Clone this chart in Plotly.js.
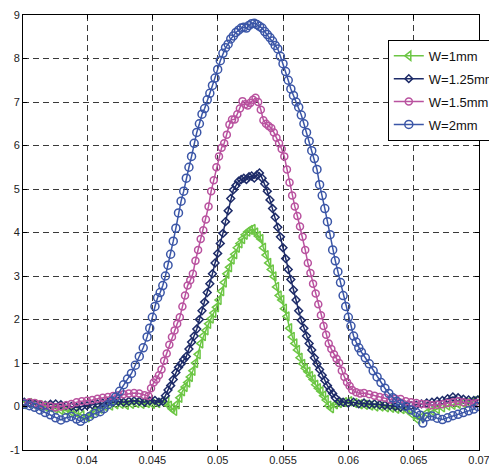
<!DOCTYPE html>
<html>
<head>
<meta charset="utf-8">
<script src="https://cdn.plot.ly/plotly-3.0.1.min.js"></script>
<style>html,body{margin:0;padding:0;background:#fff;}#chart{width:489px;height:466px;}</style>
</head>
<body>
<div id="chart"></div>
<script>
// ---- data ----
var seriesNames = ["W=1mm", "W=1.25mm", "W=1.5mm", "W=2mm"];

var x_w1 = [0.0352,0.0356,0.0360,0.0364,0.0368,0.0372,0.0376,0.0380,0.0384,0.0388,0.0392,0.0396,0.0400,0.0403,0.0406,0.0410,0.0414,0.0418,0.0422,0.0426,0.0430,0.0434,0.0438,0.0442,0.0446,0.0450,0.0454,0.0458,0.0461,0.0463,0.0465,0.0467,0.0469,0.0471,0.0473,0.0475,0.0477,0.0479,0.0481,0.0483,0.0485,0.0487,0.0489,0.0491,0.0493,0.0495,0.0497,0.0499,0.0501,0.0503,0.0505,0.0507,0.0509,0.0511,0.0513,0.0515,0.0517,0.0519,0.0521,0.0523,0.0525,0.0527,0.0529,0.0531,0.0533,0.0535,0.0537,0.0539,0.0541,0.0543,0.0545,0.0547,0.0549,0.0551,0.0553,0.0555,0.0557,0.0559,0.0561,0.0563,0.0565,0.0567,0.0569,0.0571,0.0573,0.0575,0.0577,0.0579,0.0581,0.0583,0.0585,0.0587,0.0590,0.0593,0.0597,0.0601,0.0605,0.0609,0.0613,0.0617,0.0621,0.0625,0.0629,0.0633,0.0637,0.0641,0.0645,0.0649,0.0653,0.0656,0.0660,0.0664,0.0668,0.0672,0.0676,0.0680,0.0684,0.0688,0.0692,0.0696,0.0699];
var y_w1 = [0.05,0.08,0.05,0.03,0.0,-0.02,-0.05,-0.08,-0.1,-0.12,-0.15,-0.2,-0.25,-0.18,-0.1,-0.05,0.0,0.02,0.05,0.06,0.04,0.06,0.08,0.06,0.08,0.06,0.08,0.12,0.12,0.02,-0.05,-0.1,0.05,0.2,0.35,0.45,0.55,0.68,0.82,1.0,1.2,1.45,1.62,1.75,1.9,2.02,2.15,2.28,2.45,2.65,2.85,3.05,3.2,3.38,3.5,3.65,3.75,3.85,3.95,4.02,4.06,4.08,4.0,3.92,3.85,3.65,3.48,3.3,3.15,2.99,2.75,2.55,2.45,2.25,2.07,1.8,1.6,1.45,1.3,1.12,0.98,0.88,0.8,0.7,0.62,0.5,0.42,0.35,0.25,0.15,0.02,-0.04,0.05,0.08,0.1,0.12,0.08,0.05,0.04,0.02,0.0,0.0,-0.02,-0.03,-0.05,-0.06,-0.08,-0.18,-0.3,-0.25,-0.15,-0.1,-0.06,-0.02,0.02,0.04,0.06,0.08,0.1,0.12,0.15];

var x_w125 = [0.0352,0.0356,0.0360,0.0364,0.0368,0.0372,0.0376,0.0380,0.0384,0.0388,0.0392,0.0396,0.0400,0.0404,0.0408,0.0412,0.0416,0.0420,0.0424,0.0428,0.0432,0.0436,0.0440,0.0444,0.0448,0.0452,0.0455,0.0458,0.0460,0.0462,0.0464,0.0466,0.0468,0.0470,0.0472,0.0474,0.0476,0.0478,0.0480,0.0482,0.0484,0.0486,0.0488,0.0490,0.0492,0.0494,0.0496,0.0498,0.0500,0.0502,0.0504,0.0506,0.0508,0.0510,0.0512,0.0514,0.0516,0.0518,0.0520,0.0522,0.0524,0.0526,0.0528,0.0530,0.0532,0.0534,0.0536,0.0538,0.0540,0.0542,0.0544,0.0546,0.0548,0.0550,0.0552,0.0554,0.0556,0.0558,0.0560,0.0562,0.0564,0.0566,0.0568,0.0570,0.0572,0.0574,0.0576,0.0578,0.0580,0.0582,0.0584,0.0586,0.0588,0.0590,0.0593,0.0596,0.0600,0.0604,0.0608,0.0612,0.0616,0.0620,0.0624,0.0628,0.0632,0.0636,0.0640,0.0644,0.0648,0.0652,0.0656,0.0660,0.0664,0.0668,0.0672,0.0676,0.0680,0.0684,0.0688,0.0692,0.0696,0.0699];
var y_w125 = [0.1,0.08,0.06,0.04,0.03,0.05,0.06,0.04,0.02,0.0,-0.02,0.0,0.02,0.04,0.06,0.08,0.1,0.1,0.12,0.1,0.12,0.13,0.12,0.1,0.13,0.14,0.1,0.12,0.25,0.38,0.48,0.62,0.78,0.9,0.98,1.08,1.15,1.32,1.48,1.62,1.78,2.0,2.2,2.4,2.62,2.82,3.05,3.3,3.52,3.75,3.98,4.25,4.5,4.78,4.98,5.08,5.18,5.22,5.25,5.22,5.28,5.3,5.25,5.32,5.37,5.25,5.12,4.95,4.75,4.55,4.35,4.12,3.9,3.65,3.4,3.15,2.92,2.68,2.45,2.2,1.98,1.8,1.62,1.45,1.3,1.12,0.98,0.85,0.72,0.6,0.48,0.38,0.3,0.2,0.12,0.1,0.08,0.1,0.06,0.08,0.05,0.06,0.04,0.03,0.02,0.0,-0.02,0.0,0.02,0.03,0.06,0.08,0.1,0.12,0.14,0.18,0.22,0.2,0.17,0.15,0.14,0.15];

var x_w15 = [0.0352,0.0356,0.0360,0.0364,0.0368,0.0372,0.0376,0.0380,0.0384,0.0388,0.0392,0.0396,0.0400,0.0404,0.0408,0.0412,0.0416,0.0420,0.0424,0.0428,0.0432,0.0436,0.0440,0.0444,0.0447,0.0449,0.0451,0.0453,0.0455,0.0457,0.0459,0.0461,0.0463,0.0465,0.0467,0.0469,0.0471,0.0473,0.0475,0.0477,0.0479,0.0481,0.0483,0.0485,0.0487,0.0489,0.0491,0.0493,0.0495,0.0497,0.0499,0.0501,0.0503,0.0505,0.0507,0.0509,0.0511,0.0513,0.0515,0.0517,0.0519,0.0521,0.0523,0.0525,0.0527,0.0529,0.0531,0.0533,0.0535,0.0537,0.0539,0.0541,0.0543,0.0545,0.0547,0.0549,0.0551,0.0553,0.0555,0.0557,0.0559,0.0561,0.0563,0.0565,0.0567,0.0569,0.0571,0.0573,0.0575,0.0577,0.0579,0.0581,0.0583,0.0585,0.0587,0.0589,0.0591,0.0593,0.0595,0.0597,0.0599,0.0601,0.0603,0.0606,0.0609,0.0612,0.0616,0.0620,0.0624,0.0628,0.0632,0.0636,0.0640,0.0644,0.0648,0.0652,0.0656,0.0660,0.0664,0.0668,0.0672,0.0676,0.0680,0.0684,0.0688,0.0692,0.0696,0.0699];
var y_w15 = [0.08,0.1,0.08,0.05,0.02,0.0,-0.02,0.0,0.03,0.06,0.1,0.12,0.13,0.15,0.18,0.2,0.22,0.24,0.26,0.28,0.3,0.31,0.3,0.26,0.24,0.42,0.55,0.62,0.72,0.85,1.05,1.22,1.42,1.6,1.75,1.9,2.05,2.3,2.55,2.78,2.9,3.05,3.35,3.6,3.85,4.05,4.3,4.6,4.95,5.2,5.5,5.75,5.95,6.05,6.25,6.48,6.6,6.6,6.72,6.85,7.02,6.95,6.92,6.98,7.05,7.1,7.0,6.82,6.58,6.5,6.45,6.4,6.3,6.18,6.05,5.92,5.75,5.45,5.15,4.85,4.6,4.38,4.14,3.9,3.6,3.3,3.07,2.82,2.6,2.35,2.1,1.85,1.65,1.45,1.32,1.2,1.1,1.0,0.82,0.68,0.56,0.47,0.38,0.33,0.3,0.31,0.28,0.25,0.22,0.2,0.16,0.18,0.17,0.12,0.1,0.08,0.06,0.05,0.03,0.04,0.05,0.08,0.1,0.12,0.1,0.08,0.07,0.08];

var x_w2 = [0.0352,0.0356,0.0360,0.0364,0.0368,0.0372,0.0376,0.0380,0.0384,0.0388,0.0392,0.0395,0.0398,0.0402,0.0406,0.0410,0.0413,0.0416,0.0419,0.0422,0.0425,0.0428,0.0431,0.0434,0.0437,0.0440,0.0443,0.0446,0.0448,0.0450,0.0452,0.0454,0.0456,0.0458,0.0460,0.0462,0.0464,0.0466,0.0468,0.0470,0.0472,0.0474,0.0476,0.0478,0.0480,0.0482,0.0484,0.0486,0.0488,0.0490,0.0492,0.0494,0.0496,0.0498,0.0500,0.0502,0.0504,0.0506,0.0508,0.0510,0.0512,0.0514,0.0516,0.0518,0.0520,0.0522,0.0524,0.0526,0.0528,0.0530,0.0532,0.0534,0.0536,0.0538,0.0540,0.0542,0.0544,0.0546,0.0548,0.0550,0.0552,0.0554,0.0556,0.0558,0.0560,0.0562,0.0564,0.0566,0.0568,0.0570,0.0572,0.0574,0.0576,0.0578,0.0580,0.0582,0.0584,0.0586,0.0588,0.0590,0.0592,0.0594,0.0596,0.0598,0.0600,0.0602,0.0604,0.0606,0.0608,0.0610,0.0613,0.0616,0.0619,0.0622,0.0625,0.0628,0.0631,0.0634,0.0637,0.0640,0.0644,0.0648,0.0652,0.0655,0.0657,0.0660,0.0664,0.0668,0.0672,0.0676,0.0680,0.0684,0.0688,0.0692,0.0696,0.0699];
var y_w2 = [0.05,0.02,-0.02,-0.08,-0.14,-0.19,-0.26,-0.31,-0.26,-0.23,-0.29,-0.34,-0.28,-0.23,-0.16,-0.12,-0.05,0.04,0.12,0.22,0.35,0.5,0.63,0.76,0.95,1.15,1.35,1.6,1.8,2.05,2.3,2.5,2.62,2.78,3.0,3.25,3.5,3.8,4.1,4.45,4.72,4.95,5.25,5.5,5.75,6.05,6.3,6.5,6.72,6.85,7.05,7.2,7.38,7.55,7.75,7.95,8.12,8.25,8.33,8.45,8.52,8.6,8.65,8.7,8.72,8.7,8.76,8.8,8.81,8.78,8.74,8.7,8.62,8.55,8.48,8.4,8.3,8.22,8.05,7.88,7.7,7.5,7.3,7.15,7.0,6.88,6.7,6.5,6.3,6.1,5.88,5.7,5.45,5.1,4.85,4.55,4.25,3.95,3.6,3.35,3.1,2.85,2.55,2.3,2.05,1.85,1.62,1.48,1.35,1.25,1.12,0.98,0.82,0.68,0.55,0.42,0.3,0.2,0.12,0.06,0.0,-0.08,-0.14,-0.2,-0.38,-0.24,-0.22,-0.27,-0.3,-0.26,-0.21,-0.18,-0.14,-0.1,-0.06,0.0];

var xTickVals = [0.04, 0.045, 0.05, 0.055, 0.06, 0.065, 0.07];
var xTickText = ["0.04", "0.045", "0.05", "0.055", "0.06", "0.065", "0.07"];
var yTickVals = [-1, 0, 1, 2, 3, 4, 5, 6, 7, 8, 9];
var yTickText = ["-1", "0", "1", "2", "3", "4", "5", "6", "7", "8", "9"];

var seriesColors = ["#6cc644", "#1d2b68", "#b9529f", "#3b56a7"];
var seriesSymbols = ["triangle-left-open", "diamond-open", "circle-open", "circle-open"];
var seriesSizes = [8, 6, 7, 8];

var xs = [x_w1, x_w125, x_w15, x_w2];
var ys = [y_w1, y_w125, y_w15, y_w2];

var traces = [];
for (var i = 0; i < 4; i++) {
  traces.push({
    type: "scatter",
    mode: "lines+markers",
    name: seriesNames[i],
    legendgroup: "g" + i,
    x: xs[i],
    y: ys[i],
    line: {color: seriesColors[i], width: 1.5},
    marker: {symbol: seriesSymbols[i], size: seriesSizes[i], color: seriesColors[i], line: {color: seriesColors[i], width: 1.5}}
  });
}

var axisCommon = {
  showline: true, linecolor: "#000", linewidth: 1, mirror: "allticks",
  ticks: "inside", ticklen: 4, tickcolor: "#000",
  showgrid: true, gridcolor: "#3a3a3a", gridwidth: 1, griddash: "6px,4px",
  zeroline: false,
  tickfont: {family: "Liberation Sans, Arial, sans-serif", size: 11, color: "#222"}
};

var layout = {
  width: 489, height: 466,
  paper_bgcolor: "#fff", plot_bgcolor: "#fff",
  margin: {l: 23, r: 10, t: 15, b: 16, autoexpand: false},
  showlegend: true,
  xaxis: Object.assign({}, axisCommon, {range: [0.0351, 0.07], tickmode: "array", tickvals: xTickVals, ticktext: xTickText, ticklabeloverflow: "allow"}),
  yaxis: Object.assign({}, axisCommon, {range: [-1, 9], tickmode: "array", tickvals: yTickVals, ticktext: yTickText}),
  legend: {
    x: 0.8, y: 0.943, xanchor: "left", yanchor: "top",
    bgcolor: "#fff", bordercolor: "#000", borderwidth: 1,
    tracegroupgap: 3,
    font: {family: "Liberation Sans, Arial, sans-serif", size: 13, color: "#111"}
  }
};

Plotly.newPlot("chart", traces, layout, {staticPlot: true, displayModeBar: false});
</script>
</body>
</html>
